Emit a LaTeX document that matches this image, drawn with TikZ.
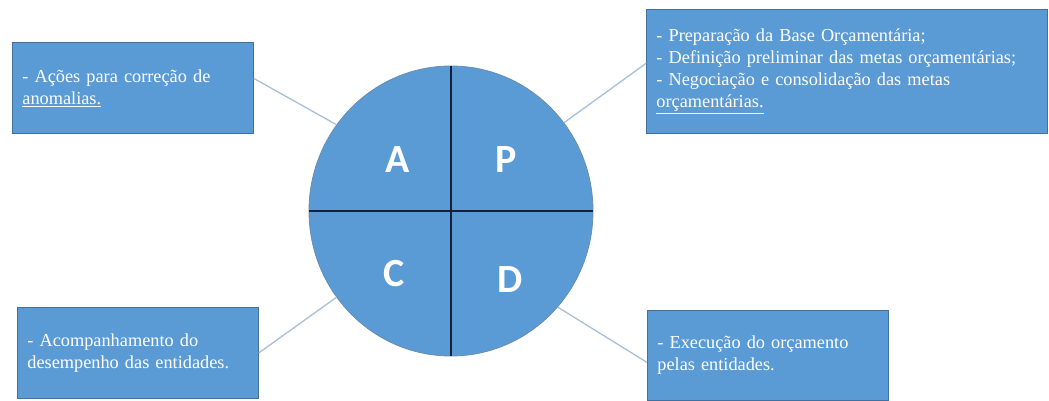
\documentclass[tikz,border=0pt]{standalone}
\usepackage{fontspec}
\setmainfont{Liberation Serif}
\newfontfamily\letterfont{Carlito}
\usetikzlibrary{shapes.geometric}
\definecolor{accent}{HTML}{5B9BD5}
\definecolor{accentdark}{HTML}{41719C}
\definecolor{divider}{HTML}{14213D}
\definecolor{link}{HTML}{A9BFD8}
\begin{document}
\begin{tikzpicture}[x=1pt,y=-1pt,
  note/.style={draw=accentdark, line width=0.8pt, fill=accent, text=white,
    anchor=north west, inner xsep=10pt, inner ysep=0pt, align=left,
    font=\fontsize{18.3}{22}\selectfont},
  phase/.style={text=white, font=\letterfont\bfseries\fontsize{40}{40}\selectfont},
  link/.style={draw=link, line width=1.3pt},
  divide/.style={draw=divider, line width=2.2pt}]
\useasboundingbox (0,0) rectangle (1049,401);
\fill[white] (0,0) rectangle (1049,401);

% PDCA wheel
\node[ellipse, draw=accentdark!80, line width=0.8pt, fill=accent,
  minimum width=284pt, minimum height=290pt, inner sep=0pt] (cycle) at (451,211) {};
\draw[divide] (cycle.north) -- (cycle.south);
\draw[divide] (cycle.west) -- (cycle.east);

\node[phase] (A) at (398,160) {A};
\node[phase] (P) at (506,160) {P};
\node[phase] (C) at (394,274) {C};
\node[phase] (D) at (510,280) {D};

% text boxes
\node[note, minimum width=241pt, minimum height=91pt, text width=221pt] (noteA) at (12,42)
  {- Ações para correção de\\\underline{anomalias.}};
\node[note, minimum width=401pt, minimum height=124pt, text width=381pt] (noteP) at (646,9)
  {- Preparação da Base Orçamentária;\\- Definição preliminar das metas orçamentárias;\\- Negociação e consolidação das metas\\\underline{orçamentárias.}};
\node[note, minimum width=241pt, minimum height=91pt, text width=221pt] (noteC) at (17,307)
  {- Acompanhamento do\\desempenho das entidades.};
\node[note, minimum width=241pt, minimum height=90pt, text width=221pt] (noteD) at (647,310)
  {- Execução do orçamento\\pelas entidades.};

% connectors
\draw[link] ([yshift=9.5pt]noteA.east) -- (cycle.143);
\draw[link] ([yshift=8pt]noteP.west) -- (cycle.38);
\draw[link] (noteC.east) -- (cycle.217);
\draw[link] ([yshift=-7pt]noteD.west) -- (cycle.-42);
\end{tikzpicture}
\end{document}
